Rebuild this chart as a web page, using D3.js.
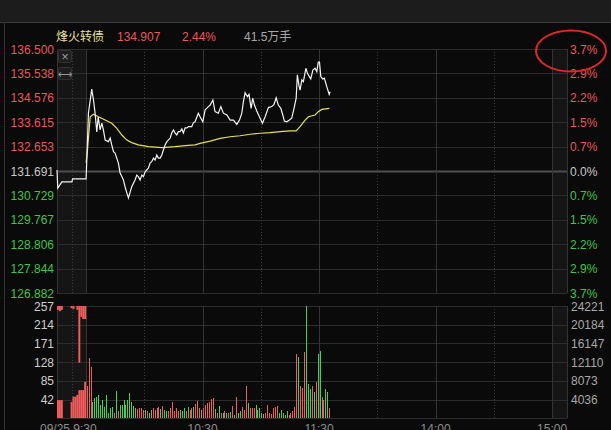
<!DOCTYPE html>
<html><head><meta charset="utf-8">
<script src="https://cdn.jsdelivr.net/npm/d3@7"></script>
<style>
html,body{margin:0;padding:0;background:#0a0a0a;overflow:hidden;}
svg{display:block;}
text{font-family:"Liberation Sans",Arial,"Noto Sans CJK SC",sans-serif;}
</style></head><body>
<svg id="c" width="611" height="430"></svg>
<script>
// ---------- data ----------
const preClose = 131.691;
const priceTicks = [136.500,135.538,134.576,133.615,132.653,131.691,130.729,129.767,128.806,127.844,126.882];
const pctLabels = ["3.7%","2.9%","2.2%","1.5%","0.7%","0.0%","0.7%","1.5%","2.2%","2.9%","3.7%"];
const volTicksL = [257,214,171,128,85,42];
const volTicksR = ["24221","20184","16147","12110","8073","4036"];
const timeSolid = [0,60,120,180,240];
const timeDotted = [-7.5,30,90,150,210];
const timeLabels = ["09/25 9:30","10:30","11:30","14:00","15:00"];
const title = {name:"烽火转债", last:"134.907", chg:"2.44%", vol:"41.5万手"};

// price line (minute from 9:30, price)
const priceMin = [-15,-14.6,-12.5,-7.3,-7,0,
 1.2,2.9,3.8,4.6,5.5,6.2,7.2,8.1,8.9,9.8,11.5,12.4,13.2,14.1,14.9,16.6,17.5,18.4,19.2,20.1,21.0,21.8,22.7,23.5,
 25.2,26.1,26.9,27.8,28.7,29.5,30.4,32.1,33.0,33.8,34.7,35.5,36.4,37.2,38.1,39.0,39.8,40.7,41.6,43.3,44.1,45.0,
 45.8,46.7,47.5,48.4,49.3,50.1,51.0,51.9,52.7,54.4,55.3,56.1,57.8,58.7,60.1,61.3,63.0,63.9,65.3,66.4,68.1,69.4,
 70.7,72.5,74.2,75.9,77.6,79.0,80.2,81.0,81.9,83.1,83.9,85.0,85.8,86.7,87.9,89.6,90.8,92.2,93.9,95.6,96.8,97.9,
 99.0,100.3,101.3,102.1,103.4,104.7,105.9,107.1,108.2,108.8,109.6,110.2,111.1,111.9,113.2,114.0,115.0,115.7,
 116.8,117.9,118.8,119.6,120.2,120.9,121.9,122.7,124.0,125.2,125.7];
const priceVal = [131.73,131.02,131.26,131.26,131.38,131.38,
 133.98,134.92,134.49,133.98,133.23,133.82,133.31,133.58,133.31,132.91,132.85,132.99,132.72,132.45,132.40,132.01,131.61,131.47,131.34,131.06,130.82,130.63,130.87,131.07,
 131.34,131.53,131.47,131.34,131.53,131.47,131.66,131.81,132.01,132.06,132.20,132.12,132.32,132.20,132.20,132.32,132.52,132.72,132.85,132.99,133.19,133.31,
 133.19,133.11,133.24,133.24,133.35,133.19,133.39,133.39,133.44,133.44,133.60,133.63,133.97,133.83,133.63,134.10,134.23,134.29,134.49,134.03,133.97,134.23,
 133.97,133.90,133.70,133.70,133.53,133.70,133.97,134.42,134.78,134.62,134.71,134.16,134.56,134.29,134.06,133.77,133.57,133.83,134.19,134.23,134.32,134.58,
 134.29,134.16,133.90,133.66,133.63,133.70,133.77,134.16,134.56,135.48,135.08,134.88,135.28,135.21,135.74,135.54,135.41,135.32,
 135.67,135.74,135.61,135.98,135.98,135.41,135.32,135.35,135.01,134.71,134.82];

// average price line
const avgMin = [0,0.7,2.1,3.8,6.3,9.8,13.2,15.8,18.4,21.0,23.5,26.9,32.1,39.0,45.8,51.0,56.1,58.7,63.9,69.0,74.2,79.3,84.5,89.6,94.8,99.9,105.1,108.2,110.2,112.8,114.5,117.9,119.6,121.4,125.3];
const avgVal = [132.01,132.52,133.83,133.93,133.83,133.70,133.57,133.37,133.11,132.91,132.81,132.72,132.65,132.61,132.65,132.69,132.72,132.78,132.87,132.98,133.04,133.08,133.14,133.18,133.20,133.24,133.27,133.27,133.44,133.70,133.83,133.90,134.03,134.12,134.16];

// pre-market volume (minutes -15..-1): bars from bottom and hanging blocks from top
const preMin  = [-15,-14,-13,-12,-11,-10,-9,-8,-7,-6,-5,-4,-3,-2,-1];
const preVol  = [41,41,41,0,0,0,0,37,49,49,53,64,64,64,83];
const preHang = [9,12,9,0,0,0,0,5,7,0,9,130,25,30,30];

// trading volume per minute (from 9:30) and direction (1 up/red, 0 down/green)
const vol = [73,137,118,37,47,49,53,30,41,26,53,11,23,26,12,63,15,30,30,41,30,41,58,37,28,22,20,22,24,18,
 18,15,12,18,22,18,22,26,20,28,18,17,15,22,37,15,22,17,18,17,22,17,26,18,24,26,
 32,40,24,18,24,30,35,37,43,47,20,12,28,12,12,15,12,12,13,28,7,49,12,15,26,18,73,
 34,22,22,22,30,18,22,11,10,11,30,12,10,22,26,28,12,18,11,7,15,7,12,15,26,
 148,139,73,68,152,257,78,66,73,60,83,148,154,49,41,66,60,22];
const up  = [1,1,1,0,0,0,0,0,0,0,0,0,0,0,1,0,1,0,0,0,0,0,0,0,0,0,1,1,1,1,
 0,1,0,0,1,1,1,1,0,1,0,0,1,1,1,1,1,1,0,0,0,1,0,1,1,0,
 1,1,1,0,1,1,1,1,1,1,0,1,0,1,0,1,0,1,0,1,0,1,0,0,1,1,1,
 0,1,1,1,0,0,0,0,0,1,1,1,1,1,1,1,0,0,0,0,0,1,1,1,1,
 1,0,1,1,1,0,0,0,1,0,1,0,0,1,1,0,0,1];

// ---------- drawing ----------
const svg = d3.select("#c");
const W = 611, H = 430;
const red = "#e8585a", green = "#3fc44a", grid = "#2c2c2c";
const barRed = "#f25c5c", barGreen = "#46d05a";
const x = d3.scaleLinear().domain([-15, 247.7]).range([57, 567]);
const yP = d3.scaleLinear().domain([126.882, 136.5]).range([293, 49]);
const yV = d3.scaleLinear().domain([0, 257]).range([418, 306]);

svg.append("rect").attr("width",W).attr("height",H).attr("fill","#0a0a0a");
// header bar
svg.append("rect").attr("x",0).attr("y",0).attr("width",W).attr("height",22).attr("fill","#1c1c1c");
svg.append("line").attr("x1",0).attr("x2",W).attr("y1",22.5).attr("y2",22.5).attr("stroke","#3c3c3c");
svg.append("line").attr("x1",4.5).attr("x2",4.5).attr("y1",22).attr("y2",H).attr("stroke","#333");

// shaded pre-/post-market areas
[[yP(136.5), yP(126.882)],[yV(257), yV(0)]].forEach(([t,b])=>{
  svg.append("rect").attr("x",x(-15)).attr("y",t).attr("width",x(0)-x(-15)).attr("height",b-t).attr("fill","#151515");
  svg.append("rect").attr("x",x(240)).attr("y",t).attr("width",x(247.7)-x(240)).attr("height",b-t).attr("fill","#151515");
});

// horizontal grid price
priceTicks.forEach(p=>{
  const yy = Math.round(yP(p))+0.5;
  const center = Math.abs(p-preClose)<1e-6;
  svg.append("line").attr("x1",x(-15)).attr("x2",x(247.7)).attr("y1",yy).attr("y2",yy)
    .attr("stroke",center?"#4e4e4e":grid).attr("stroke-width",center?2:1);
});
// horizontal grid volume
[0,...volTicksL].forEach(v=>{
  const yy = Math.round(yV(v))+0.5;
  svg.append("line").attr("x1",x(-15)).attr("x2",x(247.7)).attr("y1",yy).attr("y2",yy).attr("stroke",grid);
});
// verticals
const vBands = [[yP(136.5),yP(126.882)],[yV(257),yV(0)]];
vBands.forEach(([t,b])=>{
  [-15,...timeSolid,247.7].forEach(m=>{
    const xx = Math.round(x(m))+0.5;
    svg.append("line").attr("x1",xx).attr("x2",xx).attr("y1",t).attr("y2",b).attr("stroke","#353535");
  });
  timeDotted.forEach(m=>{
    const xx = Math.round(x(m))+0.5;
    svg.append("line").attr("x1",xx).attr("x2",xx).attr("y1",t).attr("y2",b).attr("stroke","#3a3a3a").attr("stroke-dasharray","1,2");
  });
});

// price axis labels
priceTicks.forEach((p,i)=>{
  const c = i<5?red:(i===5?"#c8c8c8":green);
  svg.append("text").attr("x",54).attr("y",yP(p)+4.5).attr("text-anchor","end")
    .attr("font-size",12).attr("fill",c).text(p.toFixed(3));
  svg.append("text").attr("x",570).attr("y",yP(p)+4.5).attr("font-size",12).attr("fill",c).text(pctLabels[i]);
});
// volume labels
volTicksL.forEach((v,i)=>{
  svg.append("text").attr("x",54).attr("y",yV(v)+4.5).attr("text-anchor","end").attr("font-size",12).attr("fill","#cfcfcf").text(v);
  svg.append("text").attr("x",571).attr("y",yV(v)+4.5).attr("font-size",12).attr("fill","#a8a8a8").text(volTicksR[i]);
});
// time labels (cut by the bottom edge as in the original)
timeLabels.forEach((t,i)=>{
  const m = timeSolid[i];
  svg.append("text").attr("x", i===0?40:x(m)).attr("y",433).attr("text-anchor",i===0?"start":"middle")
    .attr("font-size",12).attr("fill","#8c8c8c").text(t);
});

// pre-market volume
preMin.forEach((m,i)=>{
  const w = x(m+1)-x(m);
  if(preVol[i]>0) svg.append("rect").attr("x",x(m)).attr("y",yV(preVol[i])).attr("width",w).attr("height",yV(0)-yV(preVol[i])).attr("fill",barRed);
  if(preHang[i]>0) svg.append("rect").attr("x",x(m)).attr("y",yV(257)).attr("width",w).attr("height",yV(257-preHang[i])-yV(257)).attr("fill",barRed);
});
// trading volume bars
vol.forEach((v,i)=>{
  svg.append("rect").attr("x",Math.round(x(i)+0.5)).attr("y",yV(v)).attr("width",1).attr("height",yV(0)-yV(v))
    .attr("fill",up[i]?barRed:barGreen).attr("shape-rendering","crispEdges");
});

// lines
const pts = priceMin.map((m,i)=>[m,priceVal[i]]);
const aPts = avgMin.map((m,i)=>[m,avgVal[i]]);
const line = d3.line().x(d=>x(d[0])).y(d=>yP(d[1]));
svg.append("path").attr("d",line(aPts)).attr("fill","none").attr("stroke","#e6e04a").attr("stroke-width",1.2);
svg.append("path").attr("d",line(pts)).attr("fill","none").attr("stroke","#f4f4f4").attr("stroke-width",1.2);

// icons
[[50,"×"],[67,"⟷"]].forEach(([yy,g])=>{
  svg.append("rect").attr("x",58.5).attr("y",yy+0.5).attr("width",13).attr("height",12).attr("rx",2).attr("fill","#1e1e1e").attr("stroke","#333");
  svg.append("text").attr("x",65).attr("y",yy+10.5).attr("text-anchor","middle").attr("font-size",g==="×"?13:10).attr("fill","#9a9a9a").text(g);
});

// title row
const tt = svg.append("g").attr("font-size",12);
tt.append("text").attr("x",56).attr("y",41).attr("fill","#e6dfa0").attr("font-family","Noto Sans CJK SC").text(title.name);
tt.append("text").attr("x",117).attr("y",41).attr("fill",red).text(title.last);
tt.append("text").attr("x",182).attr("y",41).attr("fill",red).text(title.chg);
tt.append("text").attr("x",244).attr("y",41).attr("fill","#a8a8a8").text(title.vol);

// red annotation ellipse
svg.append("ellipse").attr("cx",571).attr("cy",51).attr("rx",35).attr("ry",20.5)
  .attr("fill","none").attr("stroke","#e02828").attr("stroke-width",2);
</script></body></html>
